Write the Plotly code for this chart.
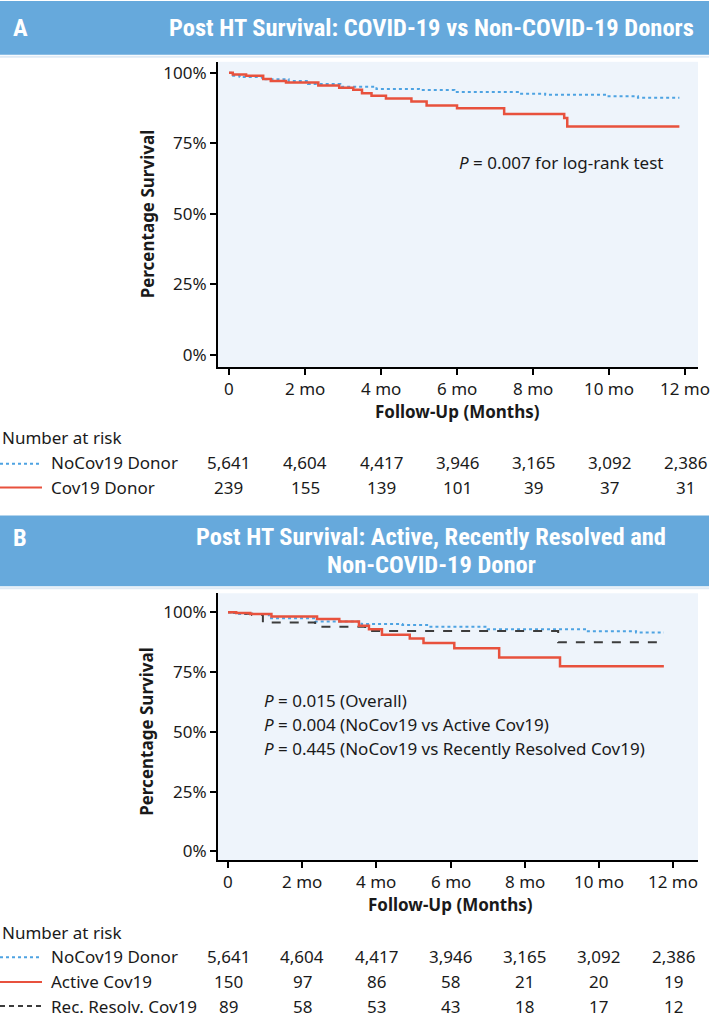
import plotly.graph_objects as go

W, H = 711, 1021

# ---------------- data ----------------
tick_months = [0, 2, 4, 6, 8, 10, 12]
tick_text = ["0", "2 mo", "4 mo", "6 mo", "8 mo", "10 mo", "12 mo"]
y_ticks = [0, 25, 50, 75, 100]
y_text = ["0%", "25%", "50%", "75%", "100%"]

# Panel A
tA_nocov = [0, 0.05, 0.28, 0.87, 1.57, 2.08, 2.93, 3.88, 5.0, 5.93, 7.6, 8.32, 9.95, 10.76, 11.85]
sA_nocov = [100, 99.0, 98.5, 97.7, 97.1, 96.0, 95.1, 94.3, 93.9, 93.2, 92.6, 92.2, 91.7, 91.2, 91.2]
tA_cov = [0, 0.1, 0.45, 0.9, 1.1, 1.5, 2.35, 2.9, 3.27, 3.5, 3.75, 4.13, 4.8, 5.2, 6.0, 7.24, 8.82, 8.9, 11.85]
sA_cov = [100, 99.4, 99.0, 97.8, 97.1, 96.6, 95.5, 94.7, 94.0, 92.8, 91.9, 90.9, 89.8, 88.4, 87.4, 85.4, 84.0, 81.0, 81.0]

riskA_labels = ["NoCov19 Donor", "Cov19 Donor"]
riskA_nocov = ["5,641", "4,604", "4,417", "3,946", "3,165", "3,092", "2,386"]
riskA_cov = ["239", "155", "139", "101", "39", "37", "31"]

# Panel B
tB_nocov = [0, 0.1, 0.3, 1.1, 2.35, 3.6, 4.7, 5.4, 7.0, 9.7, 11.0, 11.75]
sB_nocov = [100, 99.6, 99.2, 97.5, 96.1, 95.0, 94.6, 93.9, 92.9, 92.0, 91.5, 91.5]
tB_active = [0, 0.22, 0.6, 1.17, 2.4, 3.0, 3.53, 3.8, 4.15, 4.9, 5.27, 6.1, 7.31, 8.95, 11.75]
sB_active = [100, 99.6, 99.2, 98.2, 97.1, 96.1, 94.3, 92.9, 90.6, 89.0, 87.1, 84.9, 81.1, 77.4, 77.4]
tB_recent = [0, 0.3, 0.65, 0.94, 2.35, 3.7, 8.9, 11.6]
sB_recent = [100, 99.3, 98.8, 95.7, 93.9, 92.1, 87.4, 87.4]

riskB_labels = ["NoCov19 Donor", "Active Cov19", "Rec. Resolv. Cov19"]
riskB_nocov = ["5,641", "4,604", "4,417", "3,946", "3,165", "3,092", "2,386"]
riskB_active = ["150", "97", "86", "58", "21", "20", "19"]
riskB_recent = ["89", "58", "53", "43", "18", "17", "12"]

titleA = "Post HT Survival: COVID-19 vs Non-COVID-19 Donors"
titleB = ["Post HT Survival: Active, Recently Resolved and", "Non-COVID-19 Donor"]
pA = "<i>P</i> = 0.007 for log-rank test"
pB = ["<i>P</i> = 0.015 (Overall)",
      "<i>P</i> = 0.004 (NoCov19 vs Active Cov19)",
      "<i>P</i> = 0.445 (NoCov19 vs Recently Resolved Cov19)"]

# ---------------- styles ----------------
BLUE = "#4ea3e2"
RED = "#e8513d"
DARK = "#3c3c3c"
BAND = "#66a9dc"
BG = "#eef4fb"
TXT = "#1a1a1a"
FONT = "Noto Sans"
TFONT = "Liberation Sans Narrow, Roboto Condensed, Roboto"


def px(x):
    return x / W


def py(y):
    return 1 - y / H


fig = go.Figure()


def step(x, y, color, dash, width, xa, ya):
    fig.add_trace(go.Scatter(x=x, y=y, mode="lines", xaxis=xa, yaxis=ya,
                             line=dict(shape="hv", color=color, dash=dash, width=width),
                             hoverinfo="skip"))


step(tA_nocov, sA_nocov, BLUE, "dot", 2, "x", "y")
step(tA_cov, sA_cov, RED, "solid", 2.5, "x", "y")
step(tB_nocov, sB_nocov, BLUE, "dot", 2, "x2", "y2")
step(tB_recent, sB_recent, DARK, "dash", 2, "x2", "y2")
step(tB_active, sB_active, RED, "solid", 2.5, "x2", "y2")

axis_common = dict(showline=True, linecolor="black", linewidth=2, ticks="outside",
                   ticklen=6, tickwidth=2, tickcolor="black", showgrid=False,
                   zeroline=False, tickfont=dict(family=FONT, size=17, color=TXT),
                   fixedrange=True)

fig.update_layout(
    width=W, height=H, margin=dict(l=0, r=0, t=0, b=0),
    showlegend=False, plot_bgcolor=BG, paper_bgcolor="white",
    xaxis=dict(domain=[px(218), px(698)], range=[-0.289, 12.34], anchor="y",
               tickvals=tick_months, showticklabels=False, **axis_common),
    yaxis=dict(domain=[py(367), py(61)], range=[-4.24, 103.9], anchor="x",
               tickvals=y_ticks, ticktext=y_text, **axis_common),
    xaxis2=dict(domain=[px(218), px(698)], range=[-0.27, 12.67], anchor="y2",
                tickvals=tick_months, showticklabels=False, **axis_common),
    yaxis2=dict(domain=[py(862), py(594)], range=[-3.75, 107.9], anchor="x2",
                tickvals=y_ticks, ticktext=y_text, **axis_common),
)

shapes = []
# header bands
shapes.append(dict(type="rect", xref="paper", yref="paper", x0=0, x1=px(709),
                   y0=py(54), y1=py(0), fillcolor=BAND, line=dict(width=0), layer="below"))
shapes.append(dict(type="rect", xref="paper", yref="paper", x0=0, x1=px(709),
                   y0=py(587), y1=py(516), fillcolor=BAND, line=dict(width=0), layer="below"))
for yy in (56, 589):
    shapes.append(dict(type="line", xref="paper", yref="paper", x0=0, x1=px(709),
                       y0=py(yy), y1=py(yy), line=dict(color="#dfeaf5", width=2)))


def sample(y, color, dash):
    shapes.append(dict(type="line", xref="paper", yref="paper", x0=0, x1=px(42),
                       y0=py(y), y1=py(y), line=dict(color=color, dash=dash, width=2)))


sample(464, BLUE, "dot")
sample(488, RED, "solid")
sample(959, BLUE, "dot")
sample(984, RED, "solid")
sample(1008, DARK, "5px,4px")
fig.update_layout(shapes=shapes)

ann = []


def text(x, y, s, size=17, anchor="left", bold=False, color=TXT, family=FONT, xref="paper", angle=0):
    if bold:
        s = "<b>" + s + "</b>"
    ann.append(dict(x=x, y=y, xref=xref, yref="paper", text=s, showarrow=False,
                    xanchor=anchor, yanchor="middle", textangle=angle,
                    font=dict(family=family, size=size, color=color)))


# headers
text(px(11), py(27), "A", size=24.5, bold=True, color="white", family=TFONT)
text(px(431), py(27), titleA, size=24.5, anchor="center", bold=True, color="white", family=TFONT)
text(px(11), py(538), "B", size=24.5, bold=True, color="white", family=TFONT)
text(px(431), py(537), titleB[0], size=24.5, anchor="center", bold=True, color="white", family=TFONT)
text(px(431), py(565), titleB[1], size=24.5, anchor="center", bold=True, color="white", family=TFONT)

# x tick labels (placed on the axes' own month scale)
for m, lab in zip(tick_months, tick_text):
    text(m, py(389), lab, size=17, anchor="center", xref="x")
    text(m, py(883), lab, size=17, anchor="center", xref="x2")

# axis titles
text(px(457), py(412), "Follow-Up (Months)", size=17, anchor="center", bold=True)
text(px(147), py(214), "Percentage Survival", size=17, anchor="center", bold=True, angle=-90)
text(px(147), py(733), "Percentage Survival", size=17, anchor="center", bold=True, angle=-90)
text(px(450), py(906), "Follow-Up (Months)", size=17, anchor="center", bold=True)

# p-values
text(px(457), py(162), pA, size=17)
for i, s in enumerate(pB):
    text(px(262), py(702 + 24 * i), s, size=17)

# risk table A
text(0, py(438), "Number at risk", size=17)
for lab, yy in zip(riskA_labels, [463, 488]):
    text(px(49), py(yy), lab, size=17)
for vals, yy in zip([riskA_nocov, riskA_cov], [463, 488]):
    for m, v in zip(tick_months, vals):
        text(m, py(yy), v, size=17, anchor="center", xref="x")

# risk table B
text(0, py(934), "Number at risk", size=17)
for lab, yy in zip(riskB_labels, [958, 983, 1008]):
    text(px(49), py(yy), lab, size=17)
for vals, yy in zip([riskB_nocov, riskB_active, riskB_recent], [958, 983, 1008]):
    for m, v in zip(tick_months, vals):
        text(m, py(yy), v, size=17, anchor="center", xref="x2")

fig.update_layout(annotations=ann)
fig.write_html("out.html", config={"displayModeBar": False},
               post_script="document.body.style.margin='0';")
